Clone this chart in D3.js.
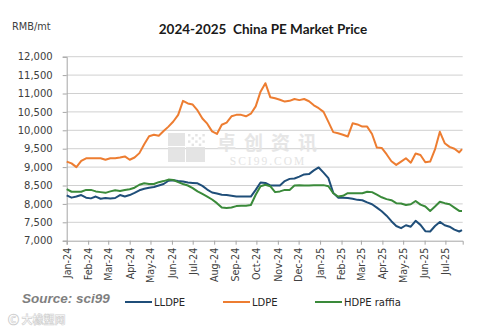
<!DOCTYPE html>
<html>
<head>
<meta charset="utf-8">
<script src="https://cdn.jsdelivr.net/npm/d3@7"></script>
<style>
  html, body { margin: 0; padding: 0; background: #fff; }
  svg { display: block; }
</style>
</head>
<body>
<svg id="chart" width="478" height="331"></svg>
<script>
// Weekly observation dates (Mondays) plus the final reading
const dates = [
  "2024-01-01","2024-01-08","2024-01-15","2024-01-22","2024-01-29","2024-02-05","2024-02-12","2024-02-19","2024-02-26",
  "2024-03-04","2024-03-11","2024-03-18","2024-03-25","2024-04-01","2024-04-08","2024-04-15","2024-04-22","2024-04-29",
  "2024-05-06","2024-05-13","2024-05-20","2024-05-27","2024-06-03","2024-06-10","2024-06-17","2024-06-24","2024-07-01",
  "2024-07-08","2024-07-15","2024-07-22","2024-07-29","2024-08-05","2024-08-12","2024-08-19","2024-08-26","2024-09-02",
  "2024-09-09","2024-09-16","2024-09-23","2024-09-30","2024-10-07","2024-10-14","2024-10-21","2024-10-28","2024-11-04",
  "2024-11-11","2024-11-18","2024-11-25","2024-12-02","2024-12-09","2024-12-16","2024-12-23","2024-12-30","2025-01-06",
  "2025-01-13","2025-01-20","2025-01-27","2025-02-03","2025-02-10","2025-02-17","2025-02-24","2025-03-03","2025-03-10",
  "2025-03-17","2025-03-24","2025-03-31","2025-04-07","2025-04-14","2025-04-21","2025-04-28","2025-05-05","2025-05-12",
  "2025-05-19","2025-05-26","2025-06-02","2025-06-09","2025-06-16","2025-06-23","2025-06-30","2025-07-07","2025-07-14",
  "2025-07-21","2025-07-25"
];

// Prices, RMB/mt
const lldpe = [
  8230,8170,8200,8240,8170,8150,8200,8140,8160,8150,8160,8240,8200,8240,8300,8370,8410,8440,
  8460,8500,8540,8630,8640,8620,8610,8580,8570,8560,8490,8390,8310,8280,8250,8240,8220,8200,
  8200,8200,8200,8380,8580,8570,8500,8500,8500,8620,8680,8690,8740,8800,8810,8910,8990,8850,
  8700,8300,8170,8170,8160,8140,8110,8100,8040,7990,7900,7800,7680,7530,7400,7340,7420,7380,
  7540,7430,7260,7250,7400,7510,7420,7380,7300,7250,7290
];
const ldpe = [
  9150,9100,9000,9170,9240,9240,9240,9240,9200,9240,9240,9260,9290,9200,9260,9380,9620,9840,
  9880,9850,9980,10100,10240,10420,10800,10730,10700,10540,10320,10180,9970,9900,10150,10210,10380,10420,
  10420,10380,10450,10650,11050,11280,10900,10870,10830,10780,10800,10850,10820,10850,10790,10680,10600,10500,
  10230,9950,9920,9880,9830,10190,10160,10100,10100,9900,9530,9520,9350,9160,9060,9150,9240,9120,
  9370,9330,9130,9150,9480,9960,9650,9550,9500,9400,9490
];
const hdpeRaffia = [
  8400,8330,8330,8330,8380,8380,8340,8320,8300,8340,8370,8350,8380,8400,8440,8520,8560,8540,
  8540,8590,8620,8660,8650,8590,8540,8500,8430,8340,8270,8200,8120,8020,7900,7890,7900,7940,
  7950,7950,7970,8250,8480,8520,8480,8320,8340,8380,8380,8500,8510,8500,8500,8510,8510,8510,
  8480,8290,8200,8220,8290,8290,8290,8290,8330,8320,8250,8180,8130,8100,8020,8010,7970,7990,
  8080,7980,7930,7810,7930,8060,8020,7990,7900,7810,7810
];

const seriesNames = ["LLDPE", "LDPE", "HDPE raffia"];
const seriesColors = ["#1f4e79", "#ed7d31", "#3a8a3a"];
const yTicks = [7000, 7500, 8000, 8500, 9000, 9500, 10000, 10500, 11000, 11500, 12000];

const parse = d3.timeParse("%Y-%m-%d");
const days = dates.map(parse);
const series = [lldpe, ldpe, hdpeRaffia].map((vals, i) => ({
  name: seriesNames[i],
  color: seriesColors[i],
  points: vals.map((v, j) => ({ date: days[j], value: v }))
}));

const svg = d3.select("#chart");
const plot = { left: 66.7, right: 462.7, top: 56.7, bottom: 240.7 };

const x = d3.scaleTime()
  .domain([parse("2024-01-01"), parse("2025-07-26")])
  .range([plot.left, plot.right]);
const y = d3.scaleLinear()
  .domain([7000, 12000])
  .range([plot.bottom, plot.top]);

const labelFont = "'DejaVu Sans', Verdana, sans-serif";

// Title and unit
svg.append("text")
  .attr("x", 263).attr("y", 34)
  .attr("text-anchor", "middle")
  .attr("font-family", "Lato, 'Open Sans', sans-serif")
  .attr("font-weight", "bold")
  .attr("font-size", 13.5)
  .attr("fill", "#1a1a1a")
  .attr("xml:space", "preserve")
  .text("2024-2025  China PE Market Price");

svg.append("text")
  .attr("x", 12).attr("y", 30)
  .attr("font-family", labelFont)
  .attr("font-size", 9.8)
  .attr("fill", "#404040")
  .text("RMB/mt");

// Horizontal gridlines
svg.append("g")
  .selectAll("line")
  .data(yTicks.filter(t => t > 7000))
  .join("line")
  .attr("x1", plot.left).attr("x2", plot.right)
  .attr("y1", d => y(d)).attr("y2", d => y(d))
  .attr("stroke", "#d0d0d0")
  .attr("stroke-width", 1);

// Y axis
const yAxis = svg.append("g")
  .attr("transform", `translate(${plot.left},0)`)
  .call(d3.axisLeft(y).tickValues(yTicks).tickFormat(d3.format(",")).tickSize(4).tickPadding(10));
yAxis.select(".domain").attr("stroke", "#a6a6a6");
yAxis.selectAll(".tick line").attr("stroke", "#a6a6a6");
yAxis.selectAll("text")
  .attr("font-family", labelFont)
  .attr("font-size", 10)
  .attr("fill", "#404040");

// X axis with monthly ticks
const xAxis = svg.append("g")
  .attr("transform", `translate(0,${plot.bottom})`)
  .call(d3.axisBottom(x)
    .ticks(d3.timeMonth.every(1))
    .tickFormat(d3.timeFormat("%b-%y"))
    .tickSizeOuter(0)
    .tickSize(4));
xAxis.select(".domain").attr("stroke", "#a6a6a6");
xAxis.selectAll(".tick line").attr("stroke", "#a6a6a6");
xAxis.selectAll("text")
  .attr("font-family", labelFont)
  .attr("font-size", 9.6)
  .attr("fill", "#404040")
  .attr("text-anchor", "end")
  .attr("transform", "rotate(-90)")
  .attr("x", -7)
  .attr("y", 0)
  .attr("dy", "0.35em");

// Watermark logo
const wm = svg.append("g").attr("opacity", 0.9);
const sq = [[168, 133, 17, 13], [168, 147, 17, 15], [186, 147, 19, 15]];
wm.selectAll("rect.sq")
  .data(sq)
  .join("rect")
  .attr("class", "sq")
  .attr("x", d => d[0]).attr("y", d => d[1])
  .attr("width", d => d[2]).attr("height", d => d[3])
  .attr("fill", "#e2e2e2");
const dots = [];
for (let r = 0; r < 4; r++) for (let c = 0; c < 5; c++) if ((r + c) % 2 === 0) dots.push([188 + c * 3.6, 134 + r * 3.2]);
wm.selectAll("rect.dot")
  .data(dots)
  .join("rect")
  .attr("class", "dot")
  .attr("x", d => d[0]).attr("y", d => d[1])
  .attr("width", 2.4).attr("height", 2.4)
  .attr("fill", "#e2e2e2");
wm.append("text")
  .attr("x", 271).attr("y", 149.5)
  .attr("text-anchor", "middle")
  .attr("font-family", "'Noto Sans CJK SC', sans-serif")
  .attr("font-size", 19)
  .attr("font-weight", "bold")
  .attr("fill", "#e4e4e4")
  .attr("letter-spacing", 8)
  .text("卓创资讯");
wm.append("text")
  .attr("x", 268).attr("y", 164.5)
  .attr("text-anchor", "middle")
  .attr("font-family", "'Liberation Serif', 'DejaVu Serif', serif")
  .attr("font-size", 11.5)
  .attr("fill", "#e2e2e2")
  .attr("letter-spacing", 2)
  .text("SCI99.COM");

// Price lines
const line = d3.line()
  .x(d => x(d.date))
  .y(d => y(d.value));

svg.append("g")
  .selectAll("path")
  .data(series)
  .join("path")
  .attr("d", d => line(d.points))
  .attr("fill", "none")
  .attr("stroke", d => d.color)
  .attr("stroke-width", 2)
  .attr("stroke-linejoin", "round");

// Source note
svg.append("text")
  .attr("x", 22).attr("y", 303)
  .attr("font-family", "'Liberation Sans', Arial, sans-serif")
  .attr("font-weight", "bold")
  .attr("font-style", "italic")
  .attr("font-size", 13.5)
  .attr("fill", "#7f7f7f")
  .text("Source: sci99");

// Legend
const legendX = [125, 223, 315];
const legend = svg.append("g")
  .selectAll("g")
  .data(series)
  .join("g")
  .attr("transform", (d, i) => `translate(${legendX[i]},302)`);
legend.append("line")
  .attr("x1", 0).attr("x2", 27)
  .attr("stroke", d => d.color)
  .attr("stroke-width", 2);
legend.append("text")
  .attr("x", 29).attr("dy", "0.35em")
  .attr("font-family", labelFont)
  .attr("font-size", 10)
  .attr("fill", "#262626")
  .text(d => d.name);

// Faint brand mark, bottom-left
svg.append("text")
  .attr("x", 8).attr("y", 324)
  .attr("font-family", "'Noto Sans CJK SC', sans-serif")
  .attr("font-size", 11)
  .attr("font-weight", "bold")
  .attr("fill", "#ffffff")
  .attr("stroke", "#cfcfcf")
  .attr("stroke-width", 0.6)
  .text("\u24B8 大橡塑网");
</script>
</body>
</html>
